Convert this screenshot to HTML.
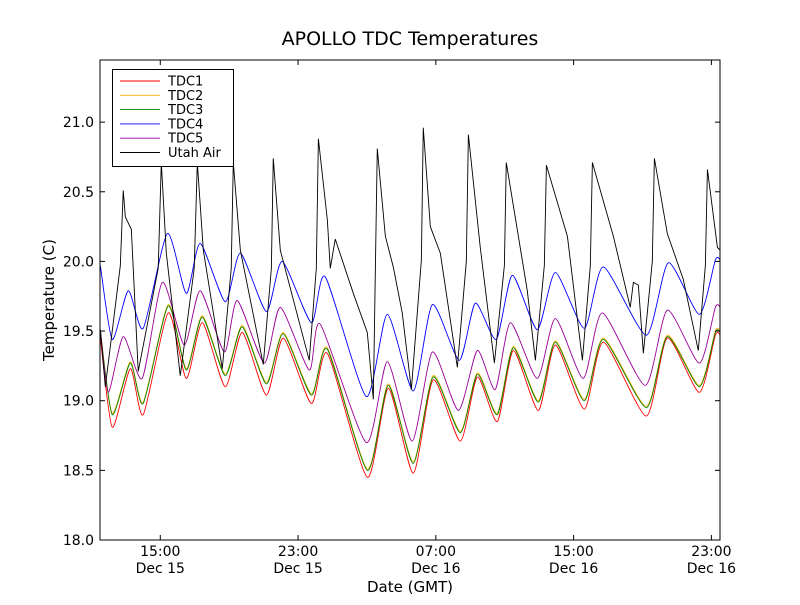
<!DOCTYPE html>
<html><head><meta charset="utf-8"><style>
body{margin:0;background:#fff}
svg text{font-family:"DejaVu Sans","Liberation Sans",sans-serif}
</style></head><body>
<svg id="chart" width="800" height="600" xmlns="http://www.w3.org/2000/svg">
<rect width="800" height="600" fill="#fff"/>
<text x="410" y="45" font-size="19" text-anchor="middle">APOLLO TDC Temperatures</text>
<g id="series"></g>
<rect x="100" y="60" width="620" height="480" fill="none" stroke="#000" stroke-width="1"/>
<g id="axes"></g>
<text x="410" y="592" font-size="15" text-anchor="middle">Date (GMT)</text>
<text x="54" y="300" font-size="15" text-anchor="middle" transform="rotate(-90 54 300)">Temperature (C)</text>
<g id="legend"></g>
</svg>
<script>
const yTicks=[18.0,18.5,19.0,19.5,20.0,20.5,21.0];
const xTickHours=[15,23,31,39,47];
const xTickTime=["15:00","23:00","07:00","15:00","23:00"];
const xTickDate=["Dec 15","Dec 15","Dec 16","Dec 16","Dec 16"];
const seriesNames=["TDC1","TDC2","TDC3","TDC4","TDC5","Utah Air"];
const seriesColors=["#ff0000","#ffb000","#008000","#0000ff","#990099","#000000"];

const tdcTimes=[11.52,12.21,13.26,14.01,15.46,16.51,17.44,18.77,19.76,21.16,22.14,23.77,24.70,27.02,28.24,29.69,30.85,32.42,33.41,34.57,35.50,36.95,37.94,39.62,40.73,43.22,44.44,46.30,47.23,47.52];
const tdc1=[19.45,18.81,19.23,18.90,19.63,19.16,19.56,19.10,19.49,19.04,19.45,18.98,19.34,18.45,19.09,18.48,19.15,18.71,19.17,18.85,19.36,18.93,19.40,18.94,19.42,18.89,19.45,19.06,19.47,19.47];
const tdc2=[19.50,18.91,19.28,18.99,19.69,19.23,19.61,19.19,19.54,19.13,19.49,19.05,19.38,18.51,19.12,18.56,19.18,18.78,19.20,18.91,19.39,19.00,19.43,19.01,19.45,18.96,19.47,19.11,19.50,19.50];
const tdc3=[19.50,18.90,19.27,18.98,19.68,19.22,19.60,19.18,19.53,19.12,19.48,19.04,19.37,18.50,19.11,18.55,19.17,18.77,19.19,18.90,19.38,18.99,19.42,19.00,19.44,18.95,19.46,19.10,19.49,19.49];
const tdc4Times=[11.52,12.21,13.14,14.01,15.41,16.51,17.32,18.77,19.65,21.16,22.08,23.77,24.58,26.96,28.18,29.69,30.80,32.36,33.29,34.51,35.44,36.89,37.94,39.62,40.73,43.22,44.50,46.30,47.23,47.52];
const tdc4=[19.97,19.44,19.79,19.52,20.20,19.77,20.13,19.71,20.06,19.64,20.00,19.56,19.89,19.03,19.62,19.07,19.69,19.29,19.70,19.44,19.90,19.51,19.92,19.52,19.96,19.47,19.99,19.62,20.01,20.01];
const tdc5Times=[11.52,11.98,12.85,13.95,15.12,16.39,17.32,18.72,19.47,21.04,21.97,23.65,24.29,26.96,28.18,29.63,30.80,32.31,33.41,34.45,35.33,36.89,37.94,39.56,40.67,43.16,44.44,46.30,47.23,47.52];
const tdc5=[19.51,19.06,19.46,19.16,19.85,19.40,19.79,19.35,19.72,19.27,19.67,19.22,19.55,18.70,19.28,18.71,19.35,18.93,19.36,19.08,19.56,19.16,19.59,19.16,19.63,19.11,19.65,19.27,19.67,19.67];
const airTimes=[11.52,11.81,12.68,12.85,12.97,13.32,13.72,14.88,15.06,15.35,16.16,16.97,17.15,17.50,18.60,19.12,19.24,19.65,20.98,21.45,21.56,21.97,23.65,24.06,24.18,24.70,24.87,25.16,26.21,27.02,27.37,27.49,27.60,28.07,28.53,29.05,29.58,30.16,30.27,30.68,31.26,32.25,32.77,32.89,33.58,34.40,34.98,35.09,36.31,36.78,37.30,37.42,38.64,39.51,39.97,40.09,41.31,42.29,42.47,42.76,43.05,43.57,43.69,44.44,45.37,46.24,46.65,46.77,47.35,47.52];
const air=[19.51,19.10,19.97,20.51,20.32,20.23,19.21,19.95,20.71,20.06,19.18,19.95,20.71,20.08,19.23,19.95,20.71,20.08,19.26,19.95,20.74,20.08,19.29,19.95,20.88,20.30,19.95,20.16,19.77,19.49,19.01,19.95,20.81,20.18,19.96,19.63,19.08,20.01,20.96,20.25,20.06,19.24,20.00,20.91,20.10,19.27,19.97,20.71,19.79,19.29,19.97,20.69,20.18,19.29,19.97,20.71,20.18,19.67,19.85,19.83,19.34,20.00,20.74,20.20,19.87,19.36,19.97,20.66,20.10,20.08];

const X0=100,X1=720,Y0=540,Y1=60,H0=11.5,H1=47.5,T0=18,T1=21.446;
function xs(h){return X0+(h-H0)*(X1-X0)/(H1-H0);}
function ys(t){return Y0-(t-T0)*(Y0-Y1)/(T1-T0);}
const NS="http://www.w3.org/2000/svg";
function mk(tag,attrs,parent){const e=document.createElementNS(NS,tag);for(const k in attrs)e.setAttribute(k,attrs[k]);parent.appendChild(e);return e;}

function smoothPath(ts,vs){
  const p=ts.map((t,i)=>[xs(t),ys(vs[i])]);
  let d="M"+p[0][0].toFixed(2)+","+p[0][1].toFixed(2);
  const k=9;
  for(let i=0;i<p.length-1;i++){
    const a=p[Math.max(0,i-1)],b=p[i],c=p[i+1],e=p[Math.min(p.length-1,i+2)];
    const c1=[b[0]+(c[0]-a[0])/k,b[1]+(c[1]-a[1])/k];
    const c2=[c[0]-(e[0]-b[0])/k,c[1]-(e[1]-b[1])/k];
    d+=" C"+c1.map(v=>v.toFixed(2))+" "+c2.map(v=>v.toFixed(2))+" "+c.map(v=>v.toFixed(2));
  }
  return d;
}
function linePath(ts,vs){return ts.map((t,i)=>(i?"L":"M")+xs(t).toFixed(2)+","+ys(vs[i]).toFixed(2)).join(" ");}

const sg=document.getElementById('series');
const defs=mk('clipPath',{id:'clip'},sg);mk('rect',{x:X0,y:Y1,width:X1-X0,height:Y0-Y1},defs);
const sdefs=[[tdcTimes,tdc1,0,true],[tdcTimes,tdc2,1,true],[tdcTimes,tdc3,2,true],[tdc4Times,tdc4,3,true],[tdc5Times,tdc5,4,true],[airTimes,air,5,false]];
const names=['tdc1-line','tdc2-line','tdc3-line','tdc4-line','tdc5-line','utah-air-line'];
sdefs.forEach(([ts,vs,ci,sm],i)=>{
  const el=mk('path',{d:sm?smoothPath(ts,vs):linePath(ts,vs),fill:'none',stroke:seriesColors[ci],'stroke-width':'0.9','clip-path':'url(#clip)'},sg);
  
  
});

const ax=document.getElementById('axes');
yTicks.forEach(v=>{
  const y=ys(v);
  mk('line',{x1:X0,x2:X0+5,y1:y,y2:y,stroke:'#000'},ax);
  mk('line',{x1:X1,x2:X1-5,y1:y,y2:y,stroke:'#000'},ax);
  const t=mk('text',{x:94,y:y+5,'font-size':'14','text-anchor':'end'},ax);
  t.textContent=v.toFixed(1);
  
  
});
xTickHours.forEach((h,i)=>{
  const x=xs(h);
  mk('line',{x1:x,x2:x,y1:Y0,y2:Y0-5,stroke:'#000'},ax);
  mk('line',{x1:x,x2:x,y1:Y1,y2:Y1+5,stroke:'#000'},ax);
  const t=mk('text',{x:x,y:556,'font-size':'14','text-anchor':'middle'},ax);
  t.textContent=xTickTime[i];
  
  
  const t2=mk('text',{x:x,y:573,'font-size':'14','text-anchor':'middle'},ax);
  t2.textContent=xTickDate[i];
  
  
});

const lg=document.getElementById('legend');
mk('rect',{x:112.5,y:69.5,width:121,height:97,fill:'#fff',stroke:'#000'},lg);
seriesNames.forEach((n,i)=>{
  const y=81+i*14.3;
  const g=mk('g',{},lg);
  
  
  mk('line',{x1:120,x2:160,y1:y,y2:y,stroke:seriesColors[i],'stroke-width':'0.9'},g);
  const t=mk('text',{x:168,y:y+4.5,'font-size':'13'},g);
  t.textContent=n;
});
</script>
</body></html>
